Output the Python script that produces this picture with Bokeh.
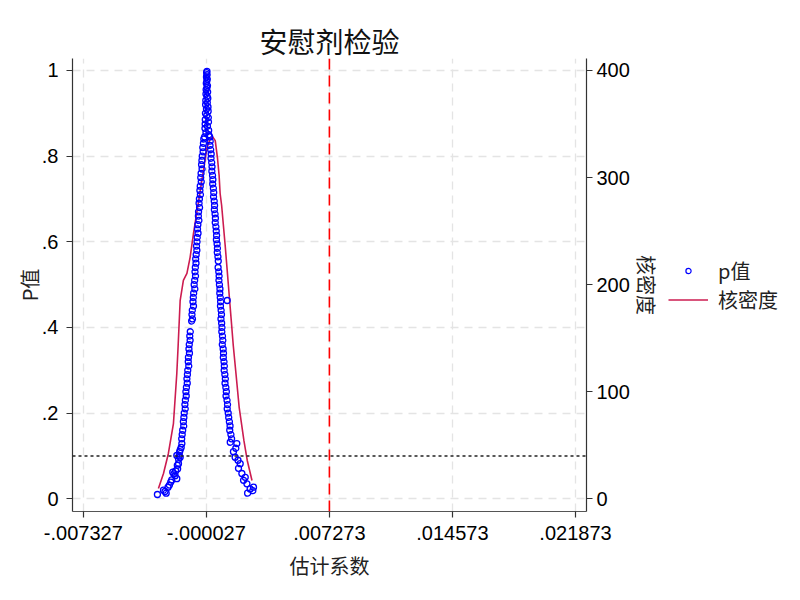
from bokeh.plotting import figure
from bokeh.layouts import row
from bokeh.models import (Range1d, LinearAxis, FixedTicker, CustomJSTickFormatter,
                          Span, Legend, LegendItem)
from bokeh.embed import file_html
from bokeh.resources import INLINE

# ---------------- texts ----------------
title_text = "安慰剂检验"
x_label = "估计系数"
y_label = "P值"
y2_label = "核密度"
scatter_name = "p值"
density_name = "核密度"

# ---------------- ticks ----------------
x_ticks = [-0.007327, -0.000027, 0.007273, 0.014573, 0.021873]
x_tick_labels = ["-.007327", "-.000027", ".007273", ".014573", ".021873"]
y_ticks = [0, 0.2, 0.4, 0.6, 0.8, 1.0]
y_tick_labels = ["0", ".2", ".4", ".6", ".8", "1"]
y2_ticks = [0, 100, 200, 300, 400]
y2_tick_labels = ["0", "100", "200", "300", "400"]

true_coef = 0.007273
p_threshold = 0.1

# ---------------- scatter data: (estimate, p value) ----------------
center_points = [
    (0.00001, 0.998), (-0.00001, 0.995), (0.00002, 0.99), (-0.00002, 0.985), (0.00003, 0.98),
    (0.0, 0.975), (-0.00003, 0.97), (0.00004, 0.965), (0.00001, 0.96), (-0.00004, 0.955),
    (0.00005, 0.95), (-0.00005, 0.945), (0.00002, 0.94), (0.00006, 0.935), (-0.00006, 0.93),
    (0.00003, 0.925), (-0.00007, 0.92), (0.00007, 0.915), (-0.00002, 0.91), (0.00008, 0.905),
    (-0.00008, 0.9), (0.0, 0.895), (0.00009, 0.89), (-0.00009, 0.885), (0.0001, 0.88),
    (-0.0001, 0.875), (0.00004, 0.87), (-0.00011, 0.865), (0.00011, 0.86), (-0.00005, 0.855),
    (0.00012, 0.85), (-0.00013, 0.845),
]
left_points = [
    (-0.00018, 0.84), (-0.0002, 0.83), (-0.00024, 0.82), (-0.00022, 0.81), (-0.00027, 0.80),
    (-0.00029, 0.79), (-0.00031, 0.78), (-0.00028, 0.77), (-0.00034, 0.76), (-0.00036, 0.75),
    (-0.00033, 0.74), (-0.00039, 0.73), (-0.00041, 0.72), (-0.00038, 0.71), (-0.00044, 0.70),
    (-0.00046, 0.69), (-0.00043, 0.68), (-0.00049, 0.67), (-0.0005, 0.66), (-0.00047, 0.65),
    (-0.00053, 0.64), (-0.00055, 0.63), (-0.00052, 0.62), (-0.00057, 0.61), (-0.00058, 0.60),
    (-0.00061, 0.59), (-0.00059, 0.58), (-0.00063, 0.57), (-0.00066, 0.56), (-0.00064, 0.55),
    (-0.00068, 0.54), (-0.0007, 0.53), (-0.00067, 0.52), (-0.00072, 0.51), (-0.00075, 0.50),
    (-0.00071, 0.49), (-0.00078, 0.48), (-0.0008, 0.47), (-0.00082, 0.46), (-0.00079, 0.45),
    (-0.00086, 0.44), (-0.00088, 0.43), (-0.00085, 0.42), (-0.0009, 0.415), (-0.00098, 0.39),
    (-0.00101, 0.38), (-0.00099, 0.37), (-0.00104, 0.36), (-0.00106, 0.35), (-0.00103, 0.34),
    (-0.00109, 0.33), (-0.0011, 0.32), (-0.00107, 0.31), (-0.00113, 0.30), (-0.00115, 0.29),
    (-0.00118, 0.28), (-0.00116, 0.27), (-0.00121, 0.26), (-0.00124, 0.25), (-0.00122, 0.24),
    (-0.00127, 0.23), (-0.0013, 0.22), (-0.00128, 0.21), (-0.00134, 0.20), (-0.00136, 0.19),
    (-0.00139, 0.18), (-0.00137, 0.17), (-0.00143, 0.16), (-0.00146, 0.15), (-0.00149, 0.14),
    (-0.00148, 0.129), (-0.00152, 0.12), (-0.00157, 0.115), (-0.00161, 0.11), (-0.00158, 0.097),
    (-0.00178, 0.101), (-0.00164, 0.10), (-0.00167, 0.092), (-0.00168, 0.082), (-0.00175, 0.078),
    (-0.00173, 0.07), (-0.00178, 0.047), (-0.00188, 0.054), (-0.00202, 0.062), (-0.00185, 0.065),
    (-0.00195, 0.058), (-0.00214, 0.039), (-0.00208, 0.044), (-0.0023, 0.027), (-0.00222, 0.032),
    (-0.00241, 0.013), (-0.00257, 0.02), (-0.00248, 0.017), (-0.00293, 0.01),
]
right_points = [
    (0.00017, 0.845), (0.0002, 0.835), (0.00019, 0.825), (0.00023, 0.815), (0.00026, 0.805),
    (0.00025, 0.795), (0.00029, 0.785), (0.00031, 0.775), (0.0003, 0.765), (0.00034, 0.755),
    (0.00036, 0.745), (0.00035, 0.735), (0.00039, 0.725), (0.00041, 0.715), (0.0004, 0.705),
    (0.00044, 0.695), (0.00046, 0.685), (0.00045, 0.675), (0.00049, 0.665), (0.00051, 0.655),
    (0.0005, 0.645), (0.00054, 0.635), (0.00056, 0.625), (0.00058, 0.615), (0.00057, 0.605),
    (0.00061, 0.595), (0.00063, 0.585), (0.00062, 0.575), (0.00066, 0.565), (0.00068, 0.555),
    (0.00067, 0.54), (0.00071, 0.53), (0.00073, 0.52), (0.00072, 0.51), (0.00075, 0.50),
    (0.00078, 0.49), (0.00077, 0.48), (0.0008, 0.47), (0.00082, 0.46), (0.00121, 0.463),
    (0.00081, 0.45), (0.00085, 0.44), (0.00087, 0.43), (0.00084, 0.42), (0.00088, 0.41),
    (0.0009, 0.40), (0.00089, 0.39), (0.00093, 0.38), (0.00095, 0.37), (0.00092, 0.36),
    (0.00097, 0.35), (0.00099, 0.34), (0.00098, 0.33), (0.00102, 0.32), (0.00104, 0.31),
    (0.00103, 0.30), (0.00107, 0.29), (0.0011, 0.28), (0.00108, 0.27), (0.00113, 0.26),
    (0.00116, 0.25), (0.00114, 0.24), (0.0012, 0.23), (0.00123, 0.22), (0.00121, 0.21),
    (0.00127, 0.20), (0.0013, 0.19), (0.00134, 0.18), (0.00138, 0.17), (0.00136, 0.16),
    (0.00143, 0.15), (0.00139, 0.132), (0.00147, 0.14), (0.00178, 0.129), (0.00168, 0.097),
    (0.00158, 0.11), (0.00198, 0.082), (0.00188, 0.071), (0.00208, 0.059), (0.00218, 0.043),
    (0.00238, 0.035), (0.00257, 0.023), (0.00273, 0.019), (0.00242, 0.013), (0.00277, 0.027),
    (0.00172, 0.118), (0.00185, 0.09), (0.00228, 0.05),
]

# ---------------- kernel density curve ----------------
dens_x = [-0.00287, -0.00257, -0.00228, -0.00198, -0.00178, -0.0017, -0.00158, -0.00139,
          -0.00118, -0.00099, -0.00079, -0.0005, -0.0002, 0.0, 0.00016, 0.00034, 0.0005,
          0.00063, 0.00073, 0.00079, 0.00088, 0.00109, 0.00121, 0.00133, 0.00145, 0.00157,
          0.00173, 0.00192, 0.0022, 0.0024, 0.00268]
dens_y = [9.6, 23.6, 42.3, 70.3, 117.0, 143.2, 185.4, 204.0, 210.6, 225.5, 247.8, 276.7,
          306.6, 327.1, 334.5, 338.2, 334.5, 318.7, 301.9, 285.1, 273.9, 236.6, 213.3,
          189.9, 166.6, 143.2, 117.0, 85.4, 54.5, 35.8, 17.1]

all_points = center_points + left_points + right_points
est = [b for b, _ in all_points]
pval = [pv for _, pv in all_points]

# ---------------- styles ----------------
FONT = "Liberation Sans"
CJK = "Noto Sans CJK SC"
PT_COLOR = "#0000ff"
DENS_COLOR = "#cc1c50"

X_MIN, X_MAX = -0.007968, 0.022526
Y_MIN, Y_MAX = -0.0297, 1.028

p = figure(frame_width=514, frame_height=453, output_backend="svg", toolbar_location=None,
           x_range=Range1d(X_MIN, X_MAX), y_range=Range1d(Y_MIN, Y_MAX),
           min_border_left=72, min_border_right=80, min_border_top=58, min_border_bottom=89)
p.outline_line_color = None
p.background_fill_color = "white"
p.border_fill_color = "white"

p.title.text = title_text
p.title.align = "center"
p.title.text_font = CJK
p.title.text_font_size = "28px"
p.title.text_font_style = "normal"
p.title.text_color = "#111111"
p.title.standoff = -5

p.extra_y_ranges = {"dens": Range1d(-11.88, 411.2)}

fmt_code = """
let best = 0; let bd = Infinity;
for (let i = 0; i < tvals.length; i++) {
  const d = Math.abs(tvals[i] - tick);
  if (d < bd) { bd = d; best = i; }
}
return tlabels[best];
"""

def make_fmt(vals, labels):
    return CustomJSTickFormatter(args=dict(tvals=vals, tlabels=labels), code=fmt_code)

def style_axis(ax):
    ax.axis_line_color = "#333333"
    ax.axis_line_width = 1.2
    ax.major_tick_line_color = "#333333"
    ax.major_tick_line_width = 1.2
    ax.major_tick_out = 6
    ax.major_tick_in = 0
    ax.minor_tick_line_color = None
    ax.major_label_text_font = FONT
    ax.major_label_text_font_size = "20px"
    ax.major_label_text_color = "#000000"
    ax.axis_label_text_font = CJK
    ax.axis_label_text_font_size = "20px"
    ax.axis_label_text_font_style = "normal"
    ax.axis_label_text_color = "#222222"

xa = p.xaxis[0]
xa.ticker = FixedTicker(ticks=x_ticks)
xa.formatter = make_fmt(x_ticks, x_tick_labels)
xa.axis_label = x_label
style_axis(xa)
xa.axis_line_color = "#555555"
xa.major_label_standoff = 8
xa.axis_label_standoff = 8

ya = p.yaxis[0]
ya.ticker = FixedTicker(ticks=y_ticks)
ya.formatter = make_fmt(y_ticks, y_tick_labels)
ya.axis_label = y_label
style_axis(ya)
ya.major_label_orientation = "horizontal"
ya.major_label_standoff = 8
ya.axis_label_standoff = -5

y2 = LinearAxis(y_range_name="dens", ticker=FixedTicker(ticks=y2_ticks),
                formatter=make_fmt(y2_ticks, y2_tick_labels),
                axis_label=y2_label)
style_axis(y2)
y2.major_label_orientation = "horizontal"
y2.major_label_standoff = 4
y2.axis_label_standoff = -1
p.add_layout(y2, "right")

# grids
p.xgrid.ticker = FixedTicker(ticks=x_ticks)
p.ygrid.ticker = FixedTicker(ticks=y_ticks)
for g in (p.xgrid[0], p.ygrid[0]):
    g.grid_line_color = "#e4e4e4"
    g.grid_line_dash = "8 6"
    g.grid_line_width = 1.3

# reference lines
p.add_layout(Span(location=p_threshold, dimension="width", line_color="#222222",
                  line_dash="3 3", line_width=1.5))
p.add_layout(Span(location=true_coef, dimension="height", line_color="#ff0000",
                  line_dash="11 6", line_width=1.6))

dens_r = p.line(dens_x, dens_y, y_range_name="dens", line_color=DENS_COLOR, line_width=1.6)
pts_r = p.scatter(est, pval, marker="circle", size=6, fill_color=None,
                  line_color=PT_COLOR, line_width=1.3)

# ---------------- legend panel (separate narrow figure to the right) ----------------
lg = figure(width=134, height=600, output_backend="svg", toolbar_location=None,
            x_range=Range1d(0, 1), y_range=Range1d(0, 1),
            min_border=0, min_border_left=0, min_border_right=0,
            min_border_top=0, min_border_bottom=0)
lg.axis.visible = False
lg.grid.visible = False
lg.outline_line_color = None
lg.background_fill_color = "white"
lg.border_fill_color = "white"
# legend keys only: their single points lie outside the visible range, so only the keys show
key_pts = lg.scatter([5], [5], marker="circle", size=5, fill_color=None,
                     line_color=PT_COLOR, line_width=1.2)
key_line = lg.line([5, 6], [5, 6], line_color=DENS_COLOR, line_width=1.6)

legend = Legend(items=[LegendItem(label=scatter_name, renderers=[key_pts]),
                       LegendItem(label=density_name, renderers=[key_line])],
                location=(2, 197))
legend.border_line_color = None
legend.background_fill_alpha = 0
legend.margin = 0
legend.padding = 0
legend.glyph_width = 40
legend.glyph_height = 13
legend.label_height = 22
legend.spacing = 0
legend.label_standoff = 10
legend.label_text_font = CJK
legend.label_text_font_size = "20px"
legend.label_text_color = "#222222"
lg.add_layout(legend, "center")

layout = row(p, lg)
open("out.html", "w").write(file_html(layout, INLINE))
